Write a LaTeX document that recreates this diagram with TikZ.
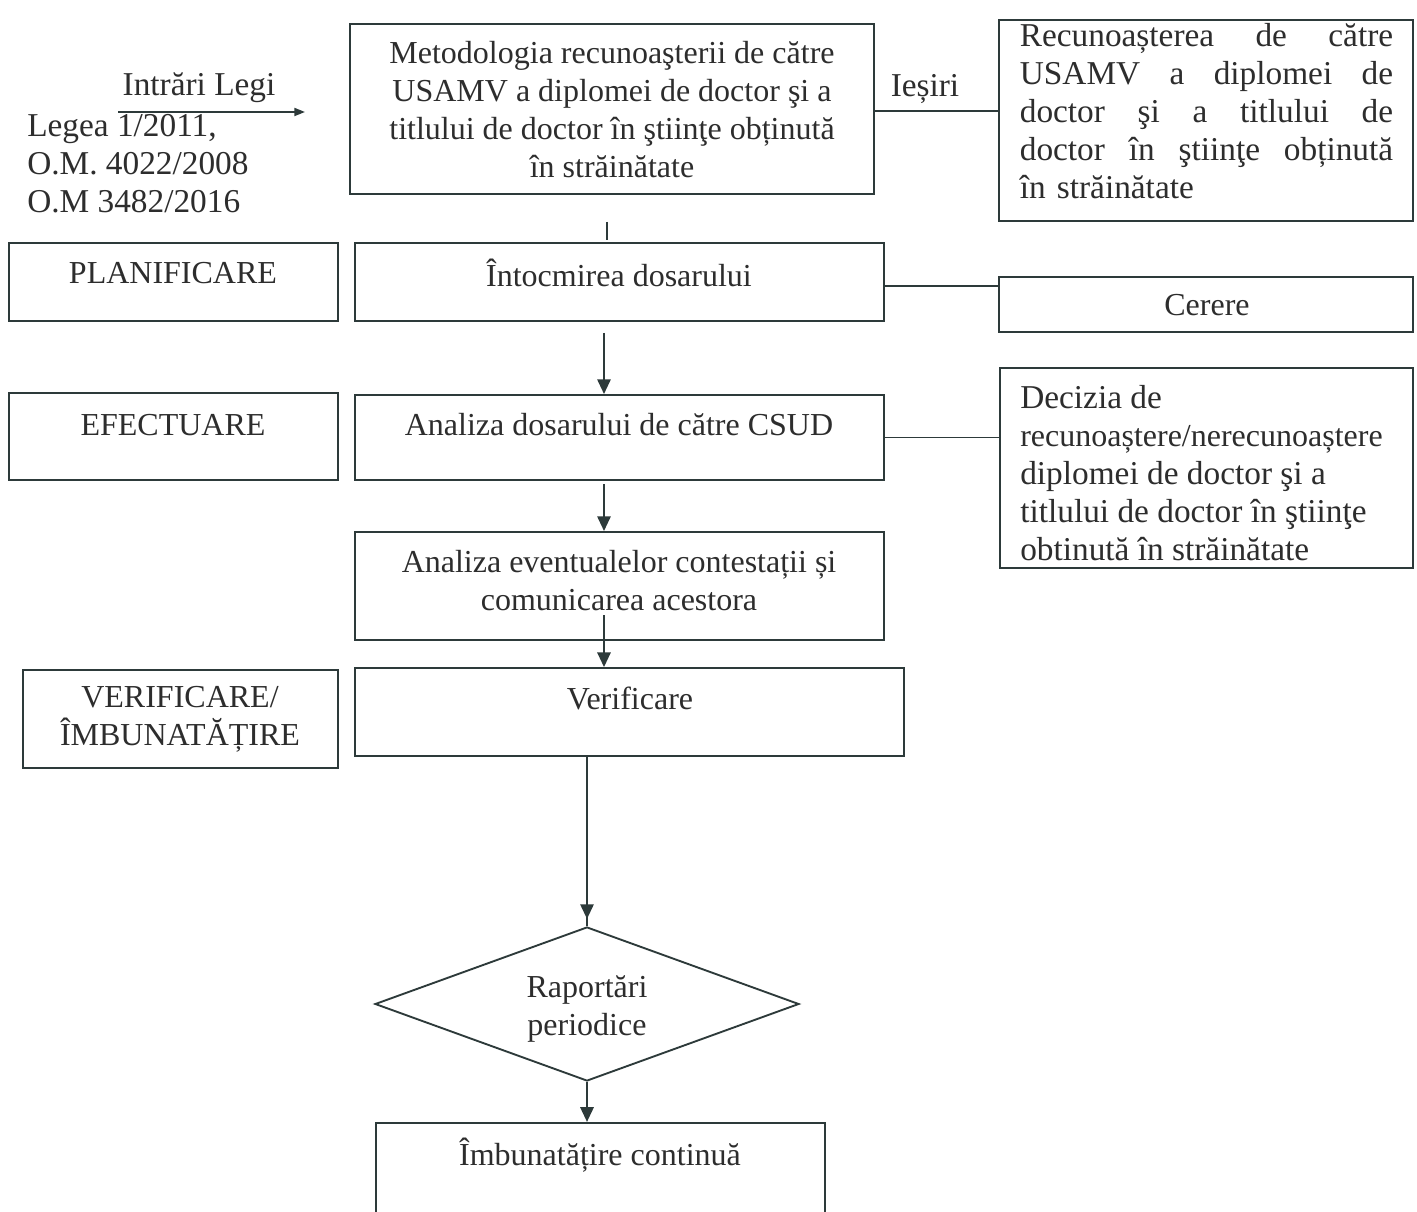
\documentclass[tikz,border=0pt]{standalone}
\usepackage{fontspec}
\setmainfont{Liberation Serif}
\usetikzlibrary{arrows.meta,shapes.geometric}
\definecolor{ln}{RGB}{45,58,58}
\definecolor{tx}{RGB}{45,45,45}
\newcommand{\jline}[1]{\leavevmode\hbox to 280pt{#1}}
\begin{document}
\begin{tikzpicture}[x=0.75pt,y=-0.75pt,
  box/.style={draw=ln, line width=1.4pt, rectangle, inner sep=0pt},
  tA/.style={text=tx, font=\fontsize{25}{28.5}\selectfont, inner sep=0pt, align=center},
  tB/.style={text=tx, font=\fontsize{24}{28.5}\selectfont, inner sep=0pt, align=center},
  con/.style={draw=ln, line width=1.4pt},
  arr/.style={draw=ln, line width=1.4pt, -{Triangle[width=10pt,length=11pt]}},
  sarr/.style={draw=ln, line width=1.4pt, -{Triangle[width=6pt,length=8pt]}}]
\useasboundingbox[fill=white] (0,0) rectangle (1417,1212);

% boxes
\node[box, minimum width=393pt, minimum height=127.5pt] (top) at (612,109) {};
\node[tB] (topt) at (612,110) {Metodologia recunoaşterii de către\\USAMV a diplomei de doctor şi a\\titlului de doctor în ştiinţe obținută\\în străinătate};

\node[box, minimum width=310.5pt, minimum height=150.75pt] (outR) at (1206,120.5) {};
\node[tA, align=left, text width=280pt] (outRt) at (1206.5,111) {\jline{Recunoașterea\hfill de\hfill către}\\\jline{USAMV\hfill a\hfill diplomei\hfill de}\\\jline{doctor\hfill şi\hfill a\hfill titlului\hfill de}\\\jline{doctor\hfill în\hfill ştiinţe\hfill obținută}\\în străinătate};

\node[tA] (intr) at (199,88) {Intrări Legi};
\coordinate (ia) at (118,112);
\coordinate (ib) at (305,112);
\draw[sarr] (ia) -- (ib);
\node[tA, align=left, anchor=west] (legi) at (27,164) {Legea 1/2011,\\O.M. 4022/2008\\O.M 3482/2016};

\node[tA] (ies) at (925,89) {Ieșiri};
\draw[con] (top.east) ++(0,2) coordinate (tc) -- (tc -| outR.west);

\coordinate (tk) at (607,222);
\draw[con, line width=1pt] (tk) -- ++(0,18);

\node[box, minimum width=246.75pt, minimum height=58.5pt] (plan) at (173.5,282) {};
\node[tB] (plant) at (173,273) {PLANIFICARE};
\node[box, minimum width=396.75pt, minimum height=58.5pt] (intoc) at (619.5,282) {};
\node[tB] (intoct) at (619,273) {Întocmirea dosarului};
\node[box, minimum width=310.5pt, minimum height=41.25pt] (cer) at (1206,304.5) {};
\node[tB] (cert) at (1207,305) {Cerere};
\draw[con] (intoc.east) ++(0,4) coordinate (ic) -- (ic -| cer.west);

\coordinate (a1) at (604,333);
\draw[arr] (a1) -- (a1 |- 0,394);

\node[box, minimum width=246.75pt, minimum height=65.25pt] (efe) at (173.5,436.5) {};
\node[tB] (efet) at (173,425) {EFECTUARE};
\node[box, minimum width=396.75pt, minimum height=63.75pt] (csud) at (619.5,437.5) {};
\node[tB] (csudt) at (619,425) {Analiza dosarului de către CSUD};
\node[box, minimum width=309.75pt, minimum height=150pt] (dec) at (1206.5,468) {};
\node[tA, align=left, anchor=west] (dect) at (1020,473) {Decizia de\\{\fontsize{24}{28.5}\selectfont recunoaștere/nerecunoaștere}\\diplomei de doctor şi a\\titlului de doctor în ştiinţe\\obtinută în străinătate};
\draw[con] (csud.east) -- (csud.east -| dec.west);

\coordinate (a2) at (604,484);
\draw[arr] (a2) -- (a2 |- 0,531);

\node[box, minimum width=396.75pt, minimum height=81pt] (cont) at (619.5,586) {};
\node[tB] (contt) at (619,581) {Analiza eventualelor contestații și\\comunicarea acestora};

\coordinate (a3) at (604,615);
\node[box, minimum width=236.25pt, minimum height=73.5pt] (verl) at (180.5,719) {};
\node[tB] (verlt) at (180,719) {VERIFICARE/\\ÎMBUNATĂȚIRE};
\node[box, minimum width=411.75pt, minimum height=66pt] (ver) at (629.5,712) {};
\node[tB] (vert) at (630,698) {Verificare};
\draw[arr] (a3) -- (a3 |- ver.north);

\node[draw=ln, line width=1.4pt, diamond, aspect=2.75, minimum width=318pt, minimum height=115.5pt, inner sep=0pt] (rap) at (587,1004) {};
\node[tB] (rapt) at (587,1009) {Raportări\\periodice};
\draw[arr] (rap.north |- ver.south) -- ++(0,162);
\draw[con] (rap.north |- ver.south) -- (rap.north);

\begin{scope}
\clip (0,0) rectangle (1417,1212);
\node[box, minimum width=336.75pt, minimum height=100pt] (imb) at (600.5,1189.5) {};
\end{scope}
\node[tB] (imbt) at (600,1155) {Îmbunatățire continuă};
\draw[arr] (rap.south) -- (rap.south |- imb.north);
\end{tikzpicture}
\end{document}
